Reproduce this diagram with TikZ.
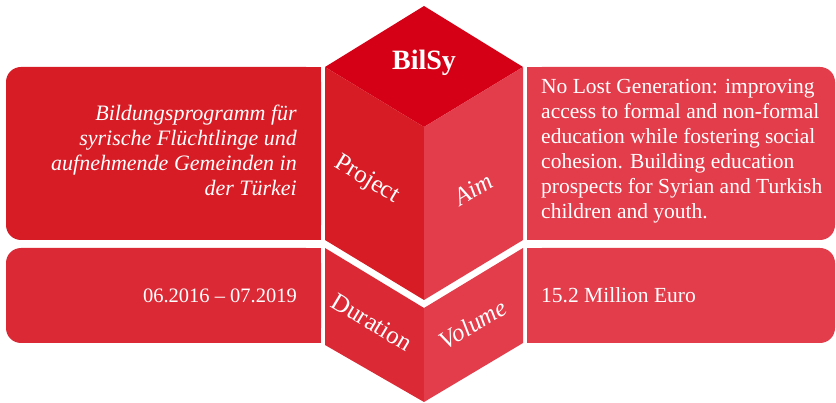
\documentclass[tikz,border=0pt]{standalone}
\usepackage{fontspec}
\setmainfont{Liberation Serif}
\definecolor{cTop}{HTML}{D50016}
\definecolor{cDark}{HTML}{D71C25}
\definecolor{cMid}{HTML}{DC2936}
\definecolor{cLight}{HTML}{E33C4B}
\begin{document}
\begin{tikzpicture}[x=1pt,y=-1pt,
  lbl/.style={text=white, font=\fontsize{25}{29}\selectfont, inner sep=0pt},
  lbli/.style={text=white, font=\itshape\fontsize{25}{29}\selectfont, inner sep=0pt},
  body/.style={text=white, font=\fontsize{21.5}{25}\selectfont, inner sep=0pt},
]
\useasboundingbox (0,0) rectangle (836,403);
% side boxes
\fill[cDark, rounded corners=15pt] (6,67) rectangle (321,240);
\fill[cDark] (290,67) rectangle (321,240);
\fill[cMid, rounded corners=15pt] (6,248) rectangle (321,343);
\fill[cMid] (290,248) rectangle (321,343);
\fill[cLight, rounded corners=15pt] (527,67) rectangle (835,240);
\fill[cLight] (527,67) rectangle (560,240);
\fill[cLight, rounded corners=15pt] (527,248) rectangle (835,343);
\fill[cLight] (527,248) rectangle (560,343);
% cube
\fill[cTop] (424,6) -- (523,67) -- (424,127) -- (325,67) -- cycle;
\fill[cDark] (325,67) -- (424,127) -- (424,300) -- (325,240) -- cycle;
\fill[cLight] (424,127) -- (523,67) -- (523,240) -- (424,300) -- cycle;
\fill[cMid] (325,248) -- (424,308) -- (424,402) -- (325,345) -- cycle;
\fill[cLight] (424,308) -- (523,248) -- (523,343) -- (424,402) -- cycle;
% labels
\node[lbl, font=\bfseries\fontsize{28}{30}\selectfont] (bilsy) at (424,63) {BilSy};
\node[lbl, rotate=-31] (project) at (367,180) {Project};
\node[lbli, rotate=31] (aim) at (473,189) {Aim};
\node[lbl, rotate=-31] (duration) at (372,322) {Duration};
\node[lbli, rotate=31] (volume) at (473,324) {Volume};
% texts
\node[body, font=\itshape\fontsize{22}{25}\selectfont, align=right, anchor=north east] (proj) at (297,105)
  {Bildungsprogramm für\\syrische Flüchtlinge und\\aufnehmende Gemeinden in\\der Türkei};
\node[body, align=left, anchor=north west] (aimtext) at (541,79)
  {No Lost Generation: improving\\access to formal and non-formal\\education while fostering social\\cohesion. Building education\\prospects for Syrian and Turkish\\children and youth.};
\node[body, font=\fontsize{20.5}{25}\selectfont, anchor=base east] (dur) at (297,303) {06.2016 – 07.2019};
\node[body, anchor=base west] (vol) at (541,303) {15.2 Million Euro};
\end{tikzpicture}
\end{document}
